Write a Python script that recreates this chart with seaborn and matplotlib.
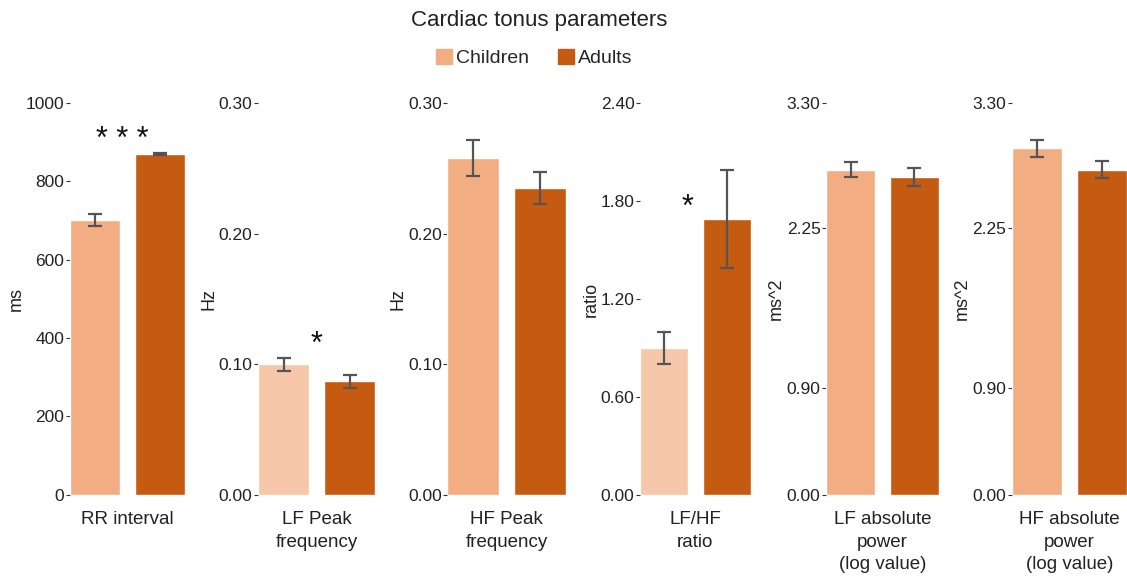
import numpy as np
import pandas as pd
import matplotlib
matplotlib.use("Agg")
import matplotlib.pyplot as plt
import seaborn as sns
from matplotlib.patches import Patch

groups = ["Children", "Adults"]

panel_labels = ["RR interval", "LF Peak\nfrequency", "HF Peak\nfrequency",
                "LF/HF\nratio", "LF absolute\npower\n(log value)", "HF absolute\npower\n(log value)"]
units = ["ms", "Hz", "Hz", "ratio", "ms^2", "ms^2"]

children_mean = [702, 0.100, 0.258, 0.90, 2.74, 2.92]
adults_mean = [870, 0.087, 0.235, 1.69, 2.68, 2.74]
children_err = [15, 0.005, 0.014, 0.10, 0.06, 0.07]
adults_err = [2, 0.005, 0.012, 0.30, 0.075, 0.07]

y_ticks = [
    [0, 200, 400, 600, 800, 1000],
    [0.00, 0.10, 0.20, 0.30],
    [0.00, 0.10, 0.20, 0.30],
    [0.00, 0.60, 1.20, 1.80, 2.40],
    [0.00, 0.90, 2.25, 3.30],
    [0.00, 0.90, 2.25, 3.30],
]
tick_fmt = ["{:.0f}", "{:.2f}", "{:.2f}", "{:.2f}", "{:.2f}", "{:.2f}"]

# significance marks: (panel, text, x, y)
stars = [(0, "* * *", 0.42, 905), (1, "*", 0.5, 0.115), (3, "*", 0.38, 1.76)]

children_color = "#F2AE82"
children_light = "#F6C8A9"
adults_color = "#C55A11"
light_panels = [1, 3]

sns.set_theme(style="white")
plt.rcParams["font.family"] = ["Liberation Sans", "DejaVu Sans"]

fig = plt.figure(figsize=(11.27, 5.76), dpi=100)

lefts = [0.062, 0.229, 0.397, 0.568, 0.733, 0.898]
widths = [0.102, 0.104, 0.105, 0.098, 0.100, 0.102]
bottom, height = 0.141, 0.68

for i in range(6):
    ax = fig.add_axes([lefts[i], bottom, widths[i], height])
    ccol = children_light if i in light_panels else children_color
    df = pd.DataFrame({"group": groups, "value": [children_mean[i], adults_mean[i]]})
    sns.barplot(data=df, x="group", y="value", hue="group", order=groups,
                palette={"Children": ccol, "Adults": adults_color},
                width=0.77, errorbar=None, legend=False, ax=ax, saturation=1)
    ax.errorbar([0, 1], df["value"], yerr=[children_err[i], adults_err[i]],
                fmt="none", ecolor="#555555", elinewidth=1.6, capsize=5, capthick=1.6)
    ax.set_xlim(-0.385, 1.385)
    ax.set_ylim(0, y_ticks[i][-1])
    ax.set_yticks(y_ticks[i])
    ax.set_yticklabels([tick_fmt[i].format(t) for t in y_ticks[i]])
    ax.tick_params(axis="y", length=3, width=0.8, color="#333333", pad=1,
                   labelsize=12.5, labelcolor="#222222", left=True)
    ax.set_xticks([])
    ax.set_xlabel(panel_labels[i], fontsize=13.5, color="#222222", labelpad=12,
                  linespacing=1.42, va="top")
    ax.set_ylabel(units[i], fontsize=13, color="#222222", labelpad=1)
    for s in ax.spines.values():
        s.set_visible(False)
    ax.set_facecolor("none")

    for p, txt, sx, sy in stars:
        if p == i:
            ax.text(sx, sy, txt, ha="center", va="center", fontsize=22,
                    color="#111111", clip_on=False)

fig.text(0.478, 0.965, "Cardiac tonus parameters", ha="center", va="center",
         fontsize=16, color="#222222")
handles = [Patch(color=children_color, label="Children"),
           Patch(color=adults_color, label="Adults")]
fig.legend(handles=handles, loc="center", bbox_to_anchor=(0.474, 0.899), ncol=2,
           frameon=False, fontsize=14, handlelength=0.8, handleheight=0.8,
           handletextpad=0.2, columnspacing=1.5)

fig.savefig("out.png", dpi=100)
